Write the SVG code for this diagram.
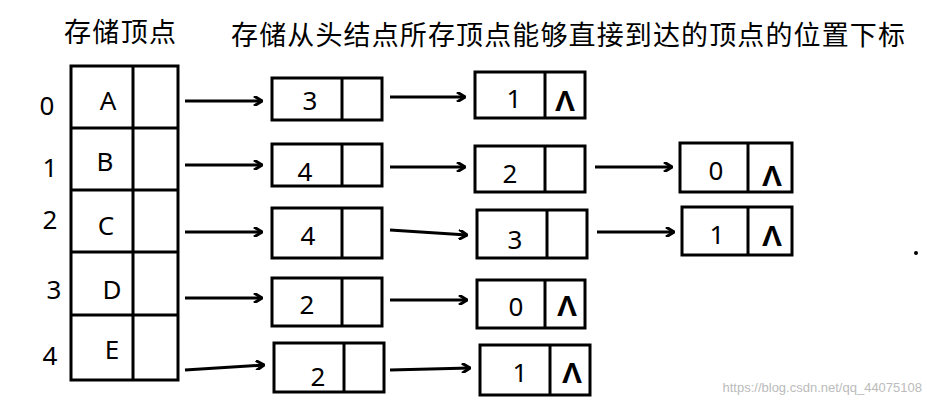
<svg xmlns="http://www.w3.org/2000/svg" width="932" height="406" viewBox="0 0 932 406">
<defs>
<marker id="ah" markerWidth="10" markerHeight="10" refX="9" refY="5" orient="auto" markerUnits="userSpaceOnUse"><path d="M1,0 L9,5 L1,10" fill="none" stroke="#000" stroke-width="3"/></marker>
</defs>
<style>
.b{fill:none;stroke:#000;stroke-width:3}
.t{font-family:"Microsoft YaHei","Noto Sans CJK SC",sans-serif;font-size:27px;fill:#000}
.l{font-family:"Noto Sans","Liberation Sans",sans-serif;font-size:26px;fill:#000;text-anchor:middle}
.n{font-family:"Liberation Sans",sans-serif;font-size:30px;font-weight:bold;fill:#000;text-anchor:middle}
.c line{stroke:#000;stroke-width:3;marker-end:url(#ah)}
</style>
<rect width="932" height="406" fill="#fff"/>
<text class="t" x="64" y="42" textLength="112">存储顶点</text>
<text class="t" x="231" y="45" textLength="674">存储从头结点所存顶点能够直接到达的顶点的位置下标</text>
<g id="array">
<rect class="b" x="71" y="66" width="107" height="314"/>
<line class="b" x1="133" y1="66" x2="133" y2="380"/>
<line class="b" x1="71" y1="128" x2="178" y2="128"/>
<line class="b" x1="71" y1="190" x2="178" y2="190"/>
<line class="b" x1="71" y1="252" x2="178" y2="252"/>
<line class="b" x1="71" y1="315" x2="178" y2="315"/>
<text class="l" x="108" y="110">A</text><text class="l" x="105" y="171">B</text><text class="l" x="106" y="235">C</text><text class="l" x="112" y="299">D</text><text class="l" x="112" y="359">E</text>
<text class="l" x="47" y="115">0</text><text class="l" x="50" y="177">1</text><text class="l" x="50" y="229">2</text><text class="l" x="54" y="299">3</text><text class="l" x="50" y="365">4</text>
</g>
<g id="n3a"><rect class="b" x="272" y="78" width="110" height="42"/><line class="b" x1="342" y1="78" x2="342" y2="120"/><text class="l" x="310" y="110">3</text></g>
<g id="n4a"><rect class="b" x="272" y="144" width="110" height="42"/><line class="b" x1="342" y1="144" x2="342" y2="186"/><text class="l" x="305" y="181">4</text></g>
<g id="n4b"><rect class="b" x="272" y="208" width="110" height="50"/><line class="b" x1="342" y1="208" x2="342" y2="258"/><text class="l" x="308" y="245">4</text></g>
<g id="n2a"><rect class="b" x="272" y="278" width="110" height="48"/><line class="b" x1="342" y1="278" x2="342" y2="326"/><text class="l" x="307" y="314">2</text></g>
<g id="n2b"><rect class="b" x="274" y="343" width="110" height="49"/><line class="b" x1="344" y1="343" x2="344" y2="392"/><text class="l" x="318" y="386">2</text></g>
<g id="n1a"><rect class="b" x="475" y="72" width="110" height="46"/><line class="b" x1="545" y1="72" x2="545" y2="118"/><text class="l" x="514" y="108">1</text><text class="n" x="565" y="111">Λ</text></g>
<g id="n2c"><rect class="b" x="475" y="146" width="110" height="46"/><line class="b" x1="545" y1="146" x2="545" y2="192"/><text class="l" x="510" y="183">2</text></g>
<g id="n3b"><rect class="b" x="477" y="210" width="110" height="48"/><line class="b" x1="547" y1="210" x2="547" y2="258"/><text class="l" x="515" y="249">3</text></g>
<g id="n0a"><rect class="b" x="477" y="280" width="108" height="48"/><line class="b" x1="545" y1="280" x2="545" y2="328"/><text class="l" x="516" y="316">0</text><text class="n" x="567" y="316">Λ</text></g>
<g id="n1b"><rect class="b" x="480" y="345" width="110" height="50"/><line class="b" x1="550" y1="345" x2="550" y2="395"/><text class="l" x="520" y="382">1</text><text class="n" x="572" y="383">Λ</text></g>
<g id="n0b"><rect class="b" x="680" y="143" width="112" height="49"/><line class="b" x1="748" y1="143" x2="748" y2="192"/><text class="l" x="716" y="180">0</text><text class="n" x="772" y="186">Λ</text></g>
<g id="n1c"><rect class="b" x="682" y="207" width="110" height="48"/><line class="b" x1="748" y1="207" x2="748" y2="255"/><text class="l" x="717" y="244">1</text><text class="n" x="772" y="246">Λ</text></g>
<g class="c" id="connectors">
<line x1="185" y1="101" x2="262" y2="101"/><line x1="185" y1="165" x2="262" y2="165"/><line x1="185" y1="232" x2="262" y2="232"/><line x1="185" y1="298" x2="262" y2="298"/><line x1="185" y1="370" x2="264" y2="365"/>
<line x1="390" y1="97" x2="465" y2="97"/><line x1="390" y1="167" x2="465" y2="167"/><line x1="390" y1="230" x2="467" y2="235"/><line x1="390" y1="300" x2="467" y2="300"/><line x1="390" y1="370" x2="470" y2="368"/>
<line x1="595" y1="167" x2="672" y2="167"/><line x1="597" y1="232" x2="674" y2="232"/>
</g>
<circle cx="916" cy="253" r="2" fill="#000"/>
<text x="922" y="392" text-anchor="end" font-family="Liberation Sans,sans-serif" font-size="13" fill="#bbb">https://blog.csdn.net/qq_44075108</text>
</svg>
